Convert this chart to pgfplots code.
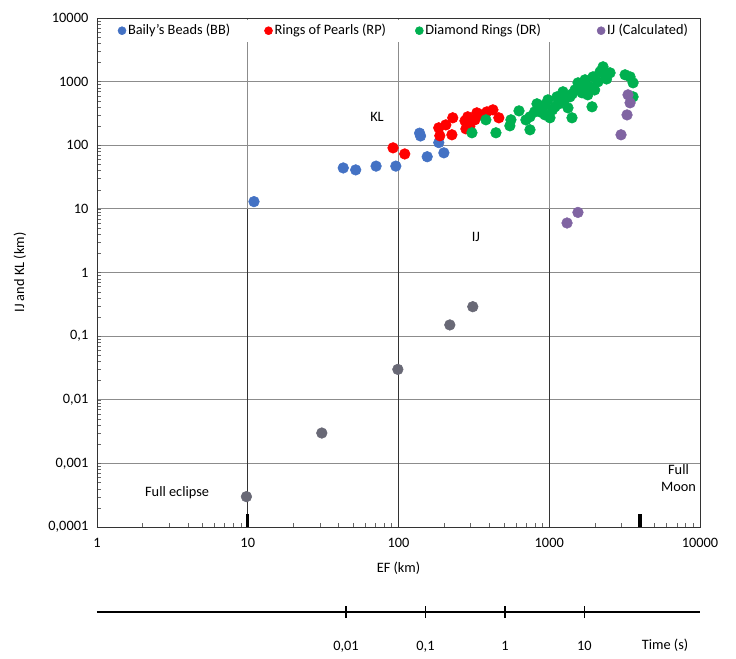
\documentclass[border=0pt]{standalone}
\usepackage{fontspec}
\setmainfont{Carlito}
\usepackage{pgfplots}
\pgfplotsset{compat=1.18}
\definecolor{bbblue}{RGB}{68,114,196}
\definecolor{rpred}{RGB}{255,0,0}
\definecolor{drgreen}{RGB}{0,176,80}
\definecolor{ijpurple}{RGB}{128,100,162}
\definecolor{ijgray}{RGB}{105,105,118}
\begin{document}
\begin{tikzpicture}[font=\fontsize{10.75}{12.5}\selectfont]
\useasboundingbox (-72.75pt,-98.25pt) rectangle (479.25pt,395.25pt);
\begin{axis}[
  at={(0pt,0pt)}, anchor=south west, scale only axis,
  width=452.25pt, height=381.75pt,
  xmode=log, ymode=log, xmin=1, xmax=10000, ymin=1e-4, ymax=1e4,
  xtick={1,10,100,1000,10000}, xticklabels={1,10,100,1000,10000},
  ytick={1e-4,1e-3,1e-2,1e-1,1,10,100,1000,10000},
  yticklabels={{0,0001},{0,001},{0,01},{0,1},1,10,100,1000,10000},
  tick pos=left,
  grid=major,
  major grid style={black!45, line width=0.6pt},
  axis line style={black!80, line width=0.6pt},
  tick style={black!60},
  major tick length=0pt, minor tick length=3pt,
  tick label style={font=\fontsize{10.75}{12.5}\selectfont},
  xticklabel style={yshift=-5pt},
  yticklabel style={xshift=-3pt},
  xlabel={EF (km)}, ylabel={IJ and KL (km)},
  xlabel style={at={(axis description cs:0.5,-0.0805)}, anchor=center},
  ylabel style={at={(axis description cs:-0.1277,0.5)}, anchor=center},
  label style={font=\fontsize{10.75}{12.5}\selectfont},
  legend columns=4,
  legend style={at={(0.03,0.997)}, anchor=north west, draw=none, fill=white,
    inner xsep=2pt, inner ysep=2pt,
    /tikz/every even column/.append style={column sep=17.5pt},
    nodes={inner sep=1.5pt, font=\fontsize{10.75}{12.5}\selectfont}},
  legend image code/.code={\draw[#1, mark size=3pt] plot coordinates {(0pt,0pt)};},
  every axis plot/.append style={only marks, mark=*, mark size=4pt},
]
% dark lower parts of the vertical lines
\addplot[black!80, line width=0.7pt, no marks, sharp plot, forget plot] coordinates {(10,1e-4) (10,10)};
\addplot[black!80, line width=0.7pt, no marks, sharp plot, forget plot] coordinates {(100,1e-4) (100,10)};
\addplot[black!80, line width=0.7pt, no marks, sharp plot, forget plot] coordinates {(1000,1e-4) (1000,10)};
% bars: full eclipse, full moon
\addplot[black, line width=2.3pt, no marks, sharp plot, forget plot] coordinates {(10,1e-4) (10,1.58e-4)};
\addplot[black, line width=2.3pt, no marks, sharp plot, forget plot] coordinates {(4000,1e-4) (4000,1.58e-4)};

\addplot[bbblue, mark options={fill=bbblue, draw=bbblue}] coordinates {
(11,13) (43,44) (52,41) (71,47) (96,47) (138,155) (140,140) (155,66) (185,110) (200,76)
};
\addlegendentry{Baily's Beads (BB)\kern6.75pt}
\addplot[rpred, mark options={fill=rpred, draw=rpred}] coordinates {
(92,91) (110,73) (185,188) (188,141) (206,209) (226,146) (229,270) (276,242) (280,181)
(288,280) (331,323) (357,300) (386,335) (423,360) (463,270) (321,251) (297,197)
};
\addlegendentry{Rings of Pearls (RP)\kern3pt}
\addplot[drgreen, mark options={fill=drgreen, draw=drgreen}] coordinates {
(307,157) (380,251) (443,157) (548,202) (557,251) (630,347) (745,175) (745,280) (829,448)
(867,335) (936,432) (980,517) (1011,270) (1091,402) (1125,577) (1214,517) (1233,692)
(1331,387) (1415,270) (1372,577) (1482,743) (1552,957) (1649,667) (1727,1068) (1864,828)
(1922,402) (1951,1189) (2105,993) (2172,1427) (2274,1709) (2345,1280) (2531,1375)
(3184,1280) (3436,1189) (3597,957) (3597,577) (1160,448) (1260,517) (1600,800)
(1800,620) (2000,740) (1050,360) (936,300) (800,335) (700,250) (1420,640) (1700,900)
(2400,1100) (1150,470) (900,380)
};
\addlegendentry{Diamond Rings (DR)\kern23pt}
\addplot[ijpurple, mark options={fill=ijpurple, draw=ijpurple}] coordinates {
(1312,6.0) (1550,8.8) (2993,146) (3281,300) (3436,464) (3330,620)
};
\addlegendentry{IJ (Calculated)}
\addplot[ijgray, mark options={fill=ijgray, draw=ijgray}, forget plot] coordinates {
(9.8,0.0003) (31,0.003) (99,0.03) (219,0.15) (311,0.29)
};
\node at (axis cs:72,280) {KL};
\node at (axis cs:326,3.6) {IJ};
\node at (axis cs:3.4,3.5e-4) {Full eclipse};
\node[align=center] at (axis cs:7200,5.9e-4) {Full\\Moon};
\end{axis}
% time axis
\begin{axis}[
  at={(0pt,-63.75pt)}, anchor=south west, scale only axis,
  width=452.25pt, height=10pt, clip=false,
  xmode=log, xmin=7.38e-6, xmax=284, ymin=0, ymax=1,
  hide y axis, axis x line*=bottom,
  axis line style={black, line width=0.8pt},
  xtick={0.01,0.1,1,10}, xticklabels={{0,01},{0,1},1,10},
  minor x tick style={draw=none},
  tick align=center, major tick length=9pt,
  major tick style={black, line width=0.8pt},
  xticklabel style={yshift=-14pt, font=\fontsize{10.75}{12.5}\selectfont},
]
\addplot[draw=none, no marks, forget plot] coordinates {(0.01,0) (10,0)};
\node[anchor=center] at (rel axis cs:0.942,0) [yshift=-24.75pt] {Time (s)};
\end{axis}
\end{tikzpicture}
\end{document}
